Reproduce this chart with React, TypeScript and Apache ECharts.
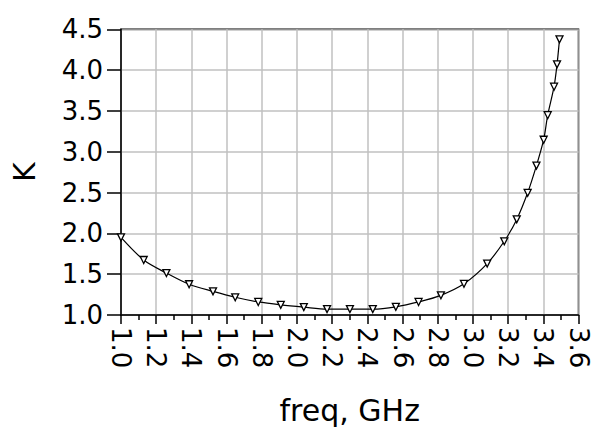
import React, { useEffect, useRef } from "react";
import * as echarts from "echarts";

const freqGHz = [
  1.0, 1.129, 1.258, 1.387, 1.523, 1.649, 1.78, 1.908, 2.039, 2.171, 2.301, 2.431, 2.562,
  2.691, 2.818, 2.949, 3.081, 3.178, 3.249, 3.311, 3.361, 3.402, 3.425, 3.461, 3.478, 3.492,
];
const kValues = [
  1.951, 1.674, 1.514, 1.377, 1.289, 1.217, 1.16, 1.124, 1.096, 1.072, 1.072, 1.072, 1.1,
  1.16, 1.241, 1.382, 1.63, 1.903, 2.171, 2.497, 2.83, 3.147, 3.448, 3.797, 4.07, 4.377,
];
const xTicks = { min: 1.0, max: 3.6, step: 0.2 };
const yTicks = { min: 1.0, max: 4.5, step: 0.5 };
const xName = "freq, GHz";
const yName = "K";

export default function App() {
  const ref = useRef<HTMLDivElement>(null);
  useEffect(() => {
    if (!ref.current) return;
    const chart = echarts.init(ref.current, null, { renderer: "svg" });
    const font = "DejaVu Sans";
    chart.setOption({
      animation: false,
      backgroundColor: "#fff",
      grid: {
        left: 121,
        right: 16.5,
        top: 29.3,
        bottom: 110,
        show: true,
        borderColor: "#000",
        borderWidth: 1.5,
        backgroundColor: "transparent",
      },
      xAxis: {
        type: "value",
        min: xTicks.min,
        max: xTicks.max,
        interval: xTicks.step,
        name: xName,
        nameLocation: "middle",
        nameGap: 80,
        nameTextStyle: { fontFamily: font, fontSize: 30, color: "#000" },
        axisLine: { show: true, onZero: false, lineStyle: { color: "#000", width: 1.5 } },
        axisTick: { show: true, length: 9, lineStyle: { color: "#000", width: 1.5 } },
        minorTick: { show: true, splitNumber: 2, length: 5, lineStyle: { color: "#000", width: 1.5 } },
        axisLabel: {
          rotate: -90,
          margin: 12,
          fontFamily: font,
          fontSize: 26,
          color: "#000",
          formatter: (v: number) => v.toFixed(1),
        },
        splitLine: { show: true, lineStyle: { color: "#c0c0c0", width: 1.5 } },
      },
      yAxis: {
        type: "value",
        min: yTicks.min,
        max: yTicks.max,
        interval: yTicks.step,
        name: yName,
        nameLocation: "middle",
        nameGap: 82,
        nameTextStyle: { fontFamily: font, fontSize: 30, color: "#000" },
        axisLine: { show: true, onZero: false, lineStyle: { color: "#000", width: 1.5 } },
        axisTick: { show: true, length: 14, lineStyle: { color: "#000", width: 1.5 } },
        axisLabel: {
          margin: 18,
          fontFamily: font,
          fontSize: 26,
          color: "#000",
          formatter: (v: number) => v.toFixed(1),
        },
        splitLine: { show: true, lineStyle: { color: "#c0c0c0", width: 1.5 } },
      },
      series: [
        {
          type: "line",
          data: freqGHz.map((f, i) => [f, kValues[i]]),
          smooth: 0.3,
          symbol: "triangle",
          symbolRotate: 180,
          symbolSize: 7,
          showAllSymbol: true,
          lineStyle: { color: "#000", width: 1.2 },
          itemStyle: { color: "#fff", borderColor: "#000", borderWidth: 1.3 },
        },
      ],
    });
    return () => chart.dispose();
  }, []);
  return (
    <div
      ref={ref}
      style={{ position: "absolute", left: 0, top: 0, width: 595, height: 430 }}
    />
  );
}
